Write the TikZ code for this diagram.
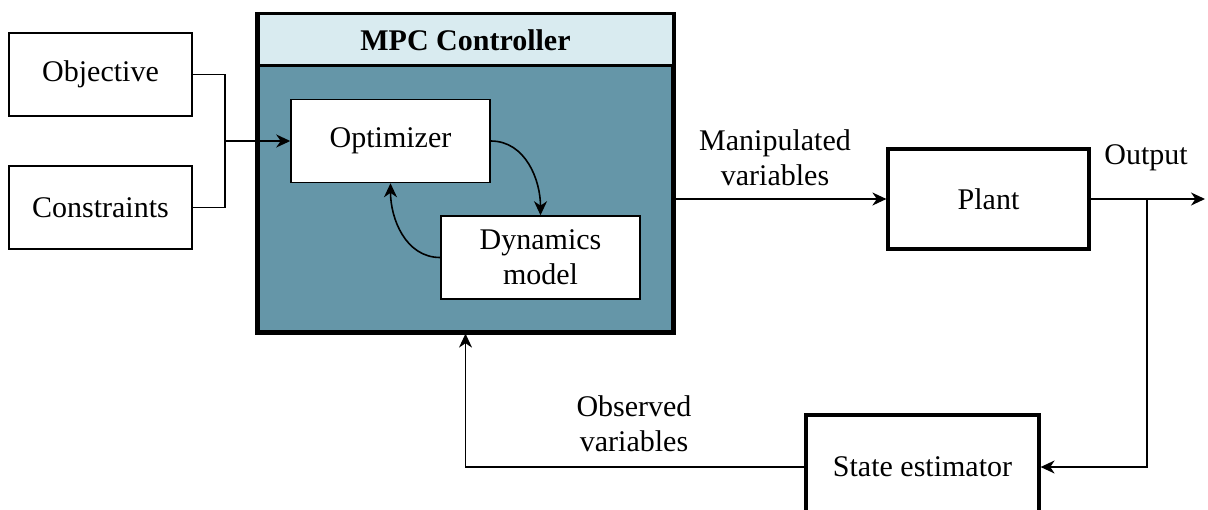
\documentclass[tikz,border=0pt]{standalone}
\usepackage{fontspec}
\setmainfont{Liberation Serif}
\usetikzlibrary{arrows.meta}
\definecolor{hdrcol}{RGB}{217,235,240}
\definecolor{bodycol}{RGB}{101,150,168}
\begin{document}
\begin{tikzpicture}[x=0.5pt,y=-0.5pt,
  txt/.style={font=\fontsize{15}{17.5}\selectfont, align=center},
  thinbox/.style={draw, line width=0.75pt, fill=white, txt, inner sep=0pt},
  thickbox/.style={draw, line width=1.6pt, fill=white, txt, inner sep=0pt},
  conn/.style={line width=0.8pt},
  arr/.style={conn, -{Stealth[length=7pt,width=6.5pt,inset=2.2pt]}}
]
\useasboundingbox (0,0) rectangle (1208,509);
\clip (0,0) rectangle (1208,509);
% MPC controller
\node[draw, line width=1.6pt, fill=bodycol, minimum width=207.5pt, minimum height=158.5pt, inner sep=0pt] (mpc) at (465.5,173.5) {};
\node[fill=hdrcol, minimum width=206pt, minimum height=25pt, inner sep=0pt, anchor=north, font=\fontsize{15}{17.5}\selectfont\bfseries] (hdr) at ([yshift=-0.8pt]mpc.north) {MPC Controller};
\draw[line width=1.6pt] (mpc.north west |- hdr.south) -- (mpc.north east |- hdr.south);
\draw[line width=1.6pt] (mpc.north west) rectangle (mpc.south east);
% inner boxes
\node[thinbox, minimum width=99.5pt, minimum height=41.5pt] (opt) at (390.5,141) {Optimizer};
\node[thinbox, minimum width=99.5pt, minimum height=41.5pt] (dyn) at (540.5,257.5) {Dynamics\\model};
% inputs
\node[thinbox, minimum width=91.5pt, minimum height=41.5pt] (obj) at (100.5,74.5) {Objective};
\node[thinbox, minimum width=91.5pt, minimum height=41.5pt] (con) at (100.5,207.5) {Constraints};
% plant and estimator
\node[thickbox, minimum width=100.5pt, minimum height=50pt] (plant) at (988.5,199) {Plant};
\node[thickbox, minimum width=116.5pt, minimum height=52pt] (est) at (922.5,467) {State estimator};
% coordinates
\coordinate (j) at (225,141);
\coordinate (outend) at (1205,199);
\coordinate (br) at (1147,199);
% connectors
\draw[conn] (obj.east) -| (j);
\draw[conn] (con.east) -| (j);
\draw[arr] (j) -- (opt.west);
\draw[arr] (opt.east) to[out=0,in=90] (dyn.north);
\draw[arr] (dyn.west) to[out=180,in=-90] (opt.south);
\draw[arr] (mpc.east |- plant.west) -- (plant.west);
\draw[arr] (plant.east) -- (outend);
\draw[arr] (br) |- (est.east);
\draw[arr] (est.west) -| (mpc.south);
% labels
\node[txt] (lman) at (775,158) {Manipulated\\variables};
\node[txt] (lout) at (1146,158) {Output};
\node[txt] (lobs) at (634,424) {Observed\\variables};
\end{tikzpicture}
\end{document}
